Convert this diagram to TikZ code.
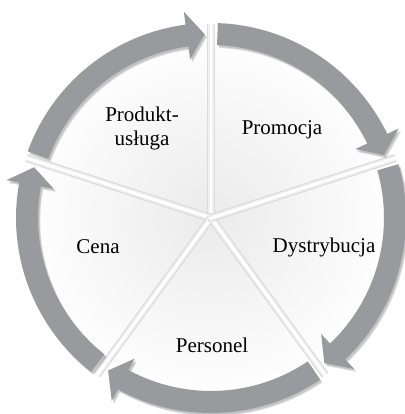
\documentclass[tikz,border=0pt]{standalone}
\usepackage{fontspec}
\setmainfont{Liberation Serif}
\definecolor{arrowgray}{RGB}{152,154,157}
\newcommand{\ringarrow}[3][]{%
  \pgfmathsetmacro{\hb}{#3+5.5}%
  \path[#1] (#2:195pt) arc[start angle=#2, end angle=\hb, radius=195pt]
    -- (\hb:208pt) -- (#3:184pt) -- (\hb:160pt) -- (\hb:173pt)
    arc[start angle=\hb, end angle=#2, radius=173pt] -- cycle;%
}
\tikzset{
  lbl/.style={font=\fontsize{21}{24}\selectfont, align=center, text=black, inner sep=0pt},
  arrowshadow/.style={fill=black, opacity=0.12, shift={(1.5pt,-2pt)}},
  arrowbody/.style={fill=arrowgray},
}
\begin{document}
\begin{tikzpicture}
\useasboundingbox (0,0) rectangle (404pt,414pt);
\fill[white] (0,0) rectangle (404pt,414pt);
\begin{scope}[shift={(211pt,196pt)}]
  % pie disc
  \shade[inner color=gray!16, outer color=white] (0,0) circle[radius=188pt];
  % gaps between segments
  \foreach \a in {90,162,234,306,18} {
    \draw[gray!28, line width=8pt] (0,0) -- (\a:194pt);
    \draw[gray!12, line width=5.5pt] (0,0) -- (\a:194pt);
    \draw[white, line width=2.5pt] (0,0) -- (\a:194pt);
  }
  % arrows: shadows then bodies
  \foreach \t/\h in {160/92, 88/20, 16/-52, -56/-124, -128/-196} {
    \ringarrow[arrowshadow]{\t}{\h}
    \ringarrow[arrowshadow, shift={(0.8pt,-1pt)}]{\t}{\h}
  }
  \foreach \t/\h in {160/92, 88/20, 16/-52, -56/-124, -128/-196} {
    \ringarrow[arrowbody]{\t}{\h}
  }
\end{scope}
\node[lbl] (produkt) at (142pt,286pt) {Produkt-\\usługa};
\node[lbl] (promocja) at (282pt,284pt) {Promocja};
\node[lbl] (dystrybucja) at (324pt,167pt) {Dystrybucja};
\node[lbl] (cena) at (98pt,167pt) {Cena};
\node[lbl] (personel) at (212pt,69pt) {Personel};
\end{tikzpicture}
\end{document}
